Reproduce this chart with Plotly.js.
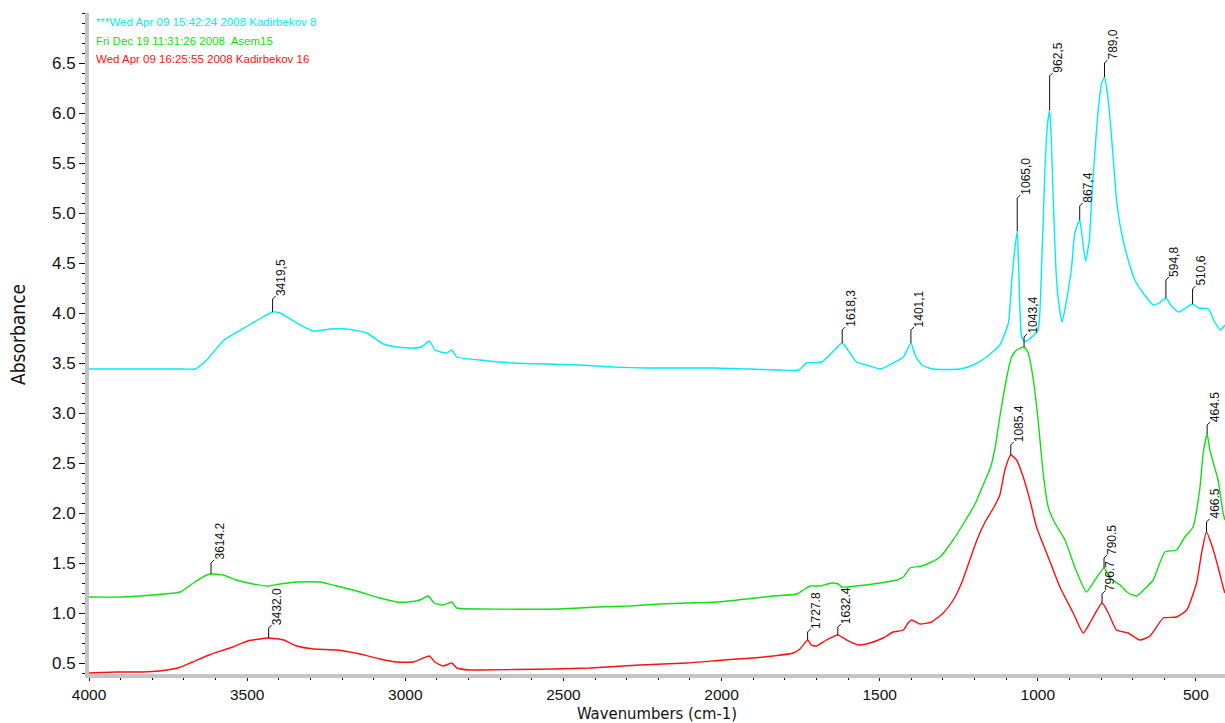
<!DOCTYPE html>
<html><head><meta charset="utf-8">
<script src="https://cdn.plot.ly/plotly-3.0.1.min.js"></script>
<style>html,body{margin:0;padding:0;background:#fff}#chart{width:1225px;height:723px}</style>
</head><body><div id="chart"></div>
<script>
// ---------- DATA ----------
const seriesNames = [
  "***Wed Apr 09 15:42:24 2008 Kadirbekov 8",
  "Fri Dec 19 11:31:26 2008  Asem15",
  "Wed Apr 09 16:25:55 2008 Kadirbekov 16"
];
const cyanWn = [4000,3900,3800,3700,3665,3628,3573,3499,3456,3419.5,3396,3343,3290,3237,3185,3122,3069,3027,2974,2948,2924,2906,2869,2853,2837,2764,2658,2553,2448,2342,2237,2026,1920,1815,1757,1731,1683,1652,1618.3,1594,1573,1541,1499,1457,1425,1401.1,1388,1367,1331,1246,1204,1162,1120,1093,1083,1074,1065.0,1060,1052,1044,1035,1019,999,988,977,970,962.5,958,951,943,935,923,909,893,883,867.4,861,849,837,830,819,809,798,789.0,780,772,761,751,735,714,693,667,635,616,594.8,580,554,533,510.6,491,460,444,423,408];
const cyanAbs = [3.44,3.44,3.44,3.44,3.44,3.53,3.73,3.87,3.95,4.01,4.00,3.90,3.82,3.84,3.84,3.80,3.69,3.66,3.65,3.66,3.72,3.63,3.60,3.63,3.56,3.53,3.50,3.49,3.48,3.46,3.45,3.45,3.44,3.43,3.43,3.50,3.51,3.60,3.70,3.60,3.51,3.48,3.44,3.50,3.56,3.70,3.58,3.48,3.44,3.44,3.48,3.56,3.68,3.90,4.30,4.60,4.82,4.40,3.78,3.72,3.72,3.76,3.83,4.46,5.46,5.86,6.03,5.80,5.13,4.46,4.13,3.91,4.13,4.46,4.80,4.93,4.80,4.52,4.73,5.13,5.63,6.03,6.30,6.36,6.20,5.96,5.53,5.13,4.80,4.53,4.33,4.20,4.08,4.10,4.15,4.08,4.01,4.05,4.09,4.05,4.04,3.93,3.83,3.88];

const greenWn = [4000,3900,3800,3712,3670,3628,3614.2,3576,3534,3481,3434,3396,3343,3270,3217,3154,3080,3027,2991,2954,2927,2909,2880,2853,2837,2764,2511,2395,2290,2195,2110,2015,1920,1837,1762,1736,1720,1689,1652,1631,1620,1573,1499,1446,1425,1404,1367,1336,1309,1270,1230,1200,1170,1150,1135,1120,1098,1083,1067,1043.4,1030,1014,999,983,967,946,914,883,846,819,790.5,772,740,714,687,656,635,598,561,535,509,487,477,464.5,456,430,414,408];
const greenAbs = [1.16,1.16,1.18,1.21,1.30,1.38,1.39,1.38,1.33,1.29,1.27,1.29,1.31,1.31,1.27,1.22,1.15,1.11,1.11,1.13,1.17,1.10,1.08,1.11,1.05,1.04,1.04,1.06,1.07,1.09,1.10,1.11,1.14,1.17,1.19,1.24,1.27,1.27,1.30,1.29,1.26,1.27,1.30,1.33,1.36,1.45,1.47,1.51,1.56,1.72,1.92,2.08,2.30,2.45,2.65,2.96,3.36,3.56,3.63,3.66,3.60,3.33,2.93,2.40,2.06,1.90,1.73,1.46,1.21,1.33,1.45,1.35,1.28,1.20,1.17,1.26,1.33,1.61,1.63,1.76,1.86,2.26,2.60,2.79,2.63,2.33,2.00,1.93];

const redWn = [4000,3914,3828,3778,3720,3673,3620,3546,3499,3432.0,3384,3343,3290,3217,3143,3080,3027,2974,2943,2924,2906,2880,2853,2837,2795,2764,2532,2416,2258,2110,1994,1900,1837,1773,1752,1727.8,1716,1700,1668,1632.4,1604,1567,1531,1489,1457,1425,1410,1399,1373,1336,1299,1267,1241,1215,1190,1165,1140,1120,1104,1085.4,1067,1046,1025,1004,972,930,888,856,830,796.7,777,751,714,677,645,603,561,529,498,482,466.5,445,430,414,408];
const redAbs = [0.40,0.41,0.41,0.42,0.45,0.51,0.58,0.66,0.72,0.75,0.73,0.67,0.64,0.63,0.59,0.54,0.51,0.51,0.55,0.57,0.51,0.47,0.50,0.45,0.43,0.43,0.44,0.45,0.48,0.50,0.53,0.55,0.57,0.60,0.64,0.73,0.68,0.67,0.73,0.78,0.73,0.68,0.70,0.75,0.81,0.83,0.90,0.93,0.89,0.91,1.00,1.13,1.30,1.53,1.75,1.92,2.05,2.18,2.43,2.58,2.53,2.36,2.13,1.86,1.60,1.26,1.00,0.80,0.93,1.10,1.00,0.83,0.80,0.73,0.77,0.95,0.96,1.03,1.30,1.60,1.81,1.63,1.46,1.26,1.20];

// peak labels (wavenumber, series index, label text)
const peakWn     = [3419.5,1618.3,1401.1,1065.0,962.5,867.4,789.0,594.8,510.6, 1043.4,3614.2,790.5,464.5, 3432.0,1727.8,1632.4,1085.4,796.7,466.5];
const peakSeries = [0,0,0,0,0,0,0,0,0, 1,1,1,1, 2,2,2,2,2,2];
const peakText   = ["3419,5","1618,3","1401,1","1065,0","962,5","867,4","789,0","594,8","510,6",
                    "1043,4","3614.2","790.5","464.5",
                    "3432.0","1727.8","1632.4","1085.4","796.7","466.5"];

const xTickVals = [4000,3500,3000,2500,2000,1500,1000,500];
const yTickVals = [0.5,1.0,1.5,2.0,2.5,3.0,3.5,4.0,4.5,5.0,5.5,6.0,6.5];

// ---------- STYLE ----------
const colors = ["#00ecf8", "#11e011", "#ff1010"];
const leaderPx = [13,13,13,33,34,14,14,18,15, 10,11,10,9, 10,8,8,10,9,10];
const FONT = '"Liberation Sans", Arial, sans-serif';
const NARROW = '"Liberation Sans Narrow", "Arial Narrow", "DejaVu Sans Condensed", sans-serif';

const wnArr = [cyanWn, greenWn, redWn];
const absArr = [cyanAbs, greenAbs, redAbs];

function valueAt(s, wn) {
  const xs = wnArr[s], ys = absArr[s];
  for (let i = 0; i < xs.length - 1; i++) {
    const a = xs[i], b = xs[i+1];
    if (wn <= a && wn >= b) {
      if (a === b) return ys[i];
      return ys[i] + (ys[i+1]-ys[i]) * (wn - a) / (b - a);
    }
  }
  return ys[ys.length-1];
}

const traces = [0,1,2].map(s => ({
  x: wnArr[s], y: absArr[s], type: 'scatter', mode: 'lines',
  name: seriesNames[s], line: {color: colors[s], width: 1.4, shape: 'spline', smoothing: 0.5},
  hoverinfo: 'skip'
}));

const shapes = [];
const annotations = [];
peakWn.forEach((wn, i) => {
  const s = peakSeries[i];
  const yv = valueAt(s, wn);
  const L = leaderPx[i];
  shapes.push({type:'line', xref:'x', yref:'y', xsizemode:'pixel', ysizemode:'pixel',
    xanchor: wn, yanchor: yv, x0:0, x1:0, y0:0, y1:L, line:{color:'#111', width:1}});
  shapes.push({type:'line', xref:'x', yref:'y', xsizemode:'pixel', ysizemode:'pixel',
    xanchor: wn, yanchor: yv, x0:0, x1:3, y0:L, y1:L+3, line:{color:'#111', width:1}});
  annotations.push({x: wn, y: yv, xref:'x', yref:'y', text: peakText[i], showarrow:false,
    textangle:-90, xanchor:'center', yanchor:'bottom', xshift:8, yshift:L+1,
    font:{family:FONT, size:12, color:'#111'}});
});

seriesNames.forEach((n, i) => {
  annotations.push({x:0, y:1, xref:'paper', yref:'paper', xanchor:'left', yanchor:'middle',
    xshift:5, yshift:-9 - i*18.5, text:n, showarrow:false,
    font:{family:FONT, size:11.5, color:colors[i]}});
});

annotations.push({x:0.5, y:0, xref:'paper', yref:'paper', xanchor:'center', yanchor:'middle',
  yshift:-39, text:'Wavenumbers (cm-1)', showarrow:false, font:{family:NARROW, size:16.5, color:'#111'}});
annotations.push({x:0, y:0.522, xref:'paper', yref:'paper', xanchor:'center', yanchor:'middle',
  xshift:-71, yshift:-6, textangle:-90, text:'Absorbance', showarrow:false, font:{family:NARROW, size:19, color:'#111'}});

const layout = {
  width:1225, height:723,
  margin:{l:89, r:0, t:13, b:49, pad:0},
  paper_bgcolor:'#fff', plot_bgcolor:'#fff',
  showlegend:false,
  font:{family:FONT, color:'#111'},
  xaxis:{range:[4000,408], showgrid:false, zeroline:false,
    showline:true, linecolor:'#c4c4c4', linewidth:4,
    ticks:'outside', ticklen:3, tickcolor:'#111', tickwidth:1,
    tickvals:xTickVals, ticktext:xTickVals.map(String),
    tickfont:{family:FONT, size:15.5, color:'#111'},
    minor:{dtick:100, tick0:0, ticks:'outside', ticklen:2, tickcolor:'#111', showgrid:false}},
  yaxis:{range:[0.39,7.0], showgrid:false, zeroline:false,
    showline:true, linecolor:'#c4c4c4', linewidth:4,
    ticks:'outside', ticklen:6, tickcolor:'#111', tickwidth:1,
    tickvals:yTickVals, ticktext:yTickVals.map(v => v.toFixed(1)),
    tickfont:{family:FONT, size:17, color:'#111'},
    minor:{dtick:0.1, tick0:0, ticks:'outside', ticklen:3, tickcolor:'#111', showgrid:false}},
  shapes: shapes,
  annotations: annotations
};

Plotly.newPlot('chart', traces, layout, {displayModeBar:false, staticPlot:true});
</script></body></html>
